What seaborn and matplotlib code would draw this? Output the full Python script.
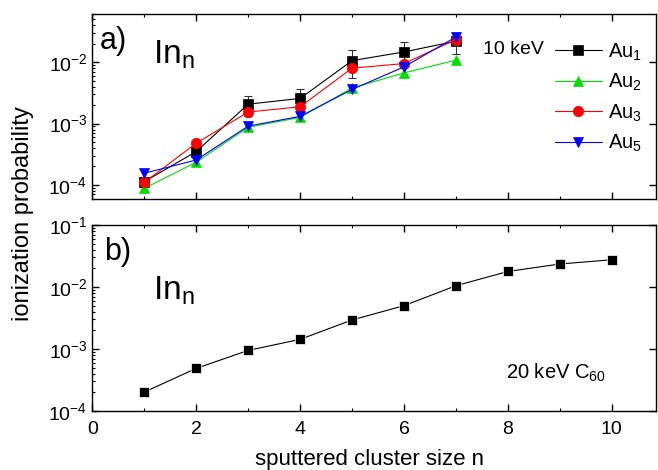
"""Ionization probability of sputtered In_n clusters (two panels)."""

import matplotlib

matplotlib.use("Agg")
import matplotlib.pyplot as plt
import numpy as np
import pandas as pd
import seaborn as sns
from matplotlib.ticker import LogLocator, MultipleLocator, NullFormatter

# panel a) 10 keV Au_m projectiles
size_a = [1, 2, 3, 4, 5, 6, 7]
au1 = [1.13e-4, 3.5e-4, 2.07e-3, 2.57e-3, 1.06e-2, 1.47e-2, 2.2e-2]
au1_err = [2e-5, 8e-5, 7.5e-4, 1.05e-3, 5e-3, 6.5e-3, 8.4e-3]
au2 = [8.8e-5, 2.34e-4, 8.7e-4, 1.26e-3, 3.8e-3, 6.7e-3, 1.08e-2]
au3 = [1.1e-4, 4.8e-4, 1.54e-3, 1.88e-3, 8.0e-3, 9.5e-3, 2.34e-2]
au3_err = [1.5e-5, 6e-5, 2.5e-4, 3e-4, 1.2e-3, 1.5e-3, 3e-3]
au5 = [1.55e-4, 2.55e-4, 9.1e-4, 1.31e-3, 3.6e-3, 8.4e-3, 2.58e-2]

# panel b) 20 keV C60 projectiles
size_b = [1, 2, 3, 4, 5, 6, 7, 8, 9, 10]
c60 = [2.02e-4, 4.87e-4, 9.5e-4, 1.43e-3, 2.94e-3, 5.0e-3, 1.05e-2, 1.78e-2, 2.35e-2, 2.75e-2]

series = [
    ("Au$_\\mathregular{1}$", au1, "black", "s"),
    ("Au$_\\mathregular{2}$", au2, "#00e000", "^"),
    ("Au$_\\mathregular{3}$", au3, "red", "o"),
    ("Au$_\\mathregular{5}$", au5, "blue", "v"),
]

sns.set_style("ticks")
plt.rcParams["font.family"] = ["Liberation Sans", "DejaVu Sans"]
plt.rcParams["mathtext.fontset"] = "custom"
plt.rcParams["mathtext.rm"] = "Liberation Sans"
plt.rcParams["axes.linewidth"] = 1.0
plt.rcParams["axes.edgecolor"] = "black"
plt.rcParams["xtick.color"] = "black"
plt.rcParams["ytick.color"] = "black"
plt.rcParams["text.color"] = "black"

fig = plt.figure(figsize=(6.58, 4.70), dpi=100)
ax_a = fig.add_axes([0.1403, 0.5766, 0.8567, 0.3936])
ax_b = fig.add_axes([0.1403, 0.1255, 0.8567, 0.3958])


def style_axis(ax, ylim, show_xlabels):
    ax.set_yscale("log")
    ax.set_xlim(0, 10.85)
    ax.set_ylim(*ylim)
    ax.xaxis.set_major_locator(MultipleLocator(2))
    ax.xaxis.set_minor_locator(MultipleLocator(1))
    ax.yaxis.set_major_locator(LogLocator(base=10))
    ax.yaxis.set_minor_locator(LogLocator(base=10, subs=np.arange(2, 10)))
    ax.yaxis.set_minor_formatter(NullFormatter())
    ax.tick_params(which="major", direction="in", length=5, width=1,
                   top=True, right=True, labelsize=14)
    ax.tick_params(axis="x", which="major", pad=7)
    ax.tick_params(which="minor", direction="in", length=2.5, width=0.8,
                   top=True, right=False)
    if not show_xlabels:
        ax.tick_params(axis="x", labelbottom=False)
    ax.set_xlabel("")
    ax.set_ylabel("")


# panel a
frame_a = pd.DataFrame({"n": size_a})
for label, values, color, marker in series:
    frame_a["value"] = values
    sns.lineplot(data=frame_a, x="n", y="value", ax=ax_a, color=color,
                 marker=marker, markersize=7.5, markeredgewidth=0.5,
                 markeredgecolor=color, linewidth=0.8, label=label)
ax_a.errorbar(size_a, au1, yerr=au1_err, fmt="none", ecolor="#333333",
              elinewidth=0.8, capsize=3, capthick=0.8, zorder=1)
ax_a.errorbar(size_a, au3, yerr=au3_err, fmt="none", ecolor="#555555",
              elinewidth=0.6, capsize=2.5, capthick=0.6, zorder=1)
style_axis(ax_a, (5.9e-5, 6.1e-2), False)

leg = ax_a.legend(loc="upper left", bbox_to_anchor=(0.807, 0.895), frameon=False,
                  fontsize=14.5, handlelength=2.3, handletextpad=0.3,
                  labelspacing=0.45, borderaxespad=0)
ax_a.text(0.693, 0.784, "10 keV", transform=ax_a.transAxes, fontsize=14,
          va="baseline", ha="left")
ax_a.text(0.014, 0.855, "a)", transform=ax_a.transAxes, fontsize=22,
          va="center", ha="left")
ax_a.text(0.108, 0.735, "In$_\\mathregular{n}$", transform=ax_a.transAxes,
          fontsize=24, va="baseline", ha="left")

# panel b
frame_b = pd.DataFrame({"n": size_b, "value": c60})
sns.lineplot(data=frame_b, x="n", y="value", ax=ax_b, color="black",
             marker="s", markersize=7, markeredgewidth=0.5,
             markeredgecolor="white", linewidth=0.8)
style_axis(ax_b, (1e-4, 1e-1), True)
ax_b.text(0.021, 0.855, "b)", transform=ax_b.transAxes, fontsize=22,
          va="center", ha="left")
ax_b.text(0.108, 0.602, "In$_\\mathregular{n}$", transform=ax_b.transAxes,
          fontsize=24, va="baseline", ha="left")
ax_b.text(0.734, 0.172, "20 keV C$_\\mathregular{60}$", transform=ax_b.transAxes,
          fontsize=14.5, va="baseline", ha="left")

fig.text(0.035, 0.545, "ionization probability", rotation=90, fontsize=17,
         va="center", ha="center")
fig.text(0.562, 0.022, "sputtered cluster size n", fontsize=16,
         va="center", ha="center")

fig.savefig("out.png", dpi=100)
plt.close(fig)
